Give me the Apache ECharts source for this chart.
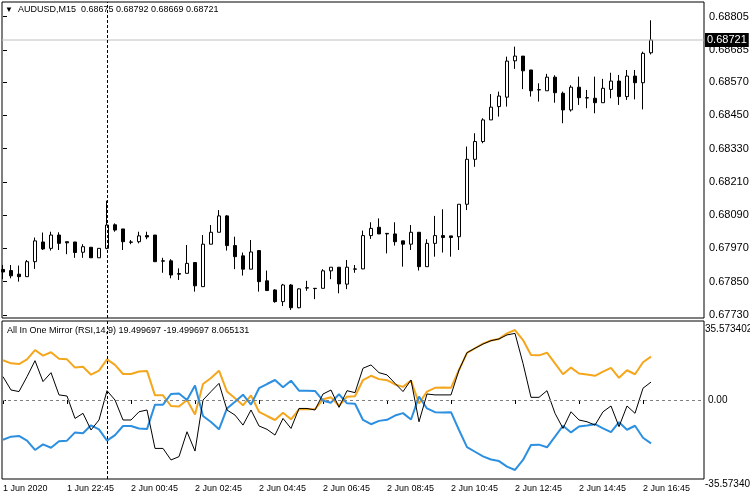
<!DOCTYPE html>
<html><head><meta charset="utf-8">
<script src="https://cdn.jsdelivr.net/npm/echarts@6/dist/echarts.min.js"></script>
<style>html,body{margin:0;padding:0;background:#fff}#c{width:750px;height:500px}</style>
</head><body><div id="c"></div>
<script>
const symbolName = 'AUDUSD,M15';
const indicatorName = 'All In One Mirror (RSI,14,9)';
const opens = [0.67894,0.67890,0.67877,0.67868,0.67922,0.67993,0.67970,0.68018,0.67994,0.67993,
0.67956,0.67974,0.67936,0.67970,0.68055,0.68040,0.67993,0.67994,0.68016,0.68018,
0.67925,0.67925,0.67879,0.67880,0.67919,0.67832,0.67985,0.68028,0.68087,0.67980,
0.67943,0.67895,0.67962,0.67853,0.67820,0.67778,0.67838,0.67756,0.67828,0.67826,
0.67826,0.67889,0.67902,0.67841,0.67896,0.67896,0.68016,0.68046,0.68024,0.68022,
0.67997,0.67985,0.68028,0.67904,0.67988,0.68016,0.68015,0.68012,0.68129,0.68291,
0.68355,0.68433,0.68481,0.68515,0.68646,0.68663,0.68613,0.68542,0.68538,0.68587,
0.68529,0.68469,0.68551,0.68513,0.68511,0.68495,0.68543,0.68573,0.68517,0.68591,
0.68567,0.68675];
const highs = [0.67910,0.67910,0.67908,0.67928,0.68009,0.68027,0.68030,0.68028,0.67994,0.67993,
0.67985,0.67974,0.67970,0.68142,0.68060,0.68040,0.68000,0.68030,0.68030,0.68018,
0.67936,0.67931,0.67898,0.67982,0.67919,0.68018,0.68054,0.68108,0.68090,0.68012,
0.67955,0.68000,0.67964,0.67890,0.67823,0.67842,0.67841,0.67826,0.67853,0.67826,
0.67895,0.67902,0.67902,0.67928,0.67910,0.68034,0.68064,0.68078,0.68024,0.68064,
0.67997,0.68054,0.68028,0.68003,0.68087,0.68111,0.68015,0.68129,0.68337,0.68385,
0.68439,0.68526,0.68535,0.68661,0.68697,0.68663,0.68613,0.68565,0.68599,0.68594,
0.68535,0.68558,0.68589,0.68541,0.68589,0.68581,0.68603,0.68595,0.68613,0.68613,
0.68679,0.68792];
const lows = [0.67859,0.67862,0.67850,0.67868,0.67896,0.67964,0.67962,0.67964,0.67949,0.67936,
0.67936,0.67936,0.67936,0.67967,0.68030,0.67964,0.67985,0.67988,0.68003,0.67922,
0.67882,0.67862,0.67856,0.67880,0.67814,0.67832,0.67985,0.68028,0.67962,0.67895,
0.67872,0.67895,0.67814,0.67818,0.67774,0.67762,0.67748,0.67754,0.67817,0.67787,
0.67826,0.67859,0.67808,0.67823,0.67882,0.67895,0.68004,0.68022,0.67952,0.67980,
0.67904,0.67964,0.67890,0.67904,0.67940,0.67955,0.67940,0.67964,0.68108,0.68264,
0.68349,0.68433,0.68445,0.68481,0.68617,0.68544,0.68517,0.68499,0.68538,0.68495,
0.68421,0.68463,0.68487,0.68475,0.68457,0.68495,0.68511,0.68487,0.68505,0.68507,
0.68471,0.68669];
const closes = [0.67885,0.67871,0.67868,0.67922,0.67997,0.67968,0.68018,0.67988,0.67990,0.67955,
0.67976,0.67936,0.67970,0.68054,0.68036,0.67994,0.67992,0.68015,0.68011,0.67922,
0.67924,0.67874,0.67877,0.67916,0.67835,0.67985,0.68028,0.68087,0.67980,0.67940,
0.67895,0.67957,0.67850,0.67818,0.67778,0.67838,0.67756,0.67824,0.67827,0.67825,
0.67889,0.67902,0.67842,0.67902,0.67895,0.68016,0.68042,0.68022,0.68022,0.67994,
0.67985,0.68028,0.67904,0.67988,0.68016,0.68009,0.68009,0.68129,0.68291,0.68355,
0.68433,0.68479,0.68519,0.68645,0.68663,0.68610,0.68538,0.68541,0.68587,0.68531,
0.68469,0.68551,0.68513,0.68512,0.68495,0.68547,0.68573,0.68517,0.68591,0.68567,
0.68673,0.68721];
const rsiUp = [17.9,16.5,16.2,18.3,22.5,20.0,21.5,18.6,18.3,14.6,
15.0,11.4,13.2,18.3,15.8,11.7,11.7,12.8,13.1,2.1,
2.1,-2.7,-2.9,0.0,-6.5,7.2,9.9,13.2,3.8,0.8,
-2.4,2.1,-5.3,-7.2,-9.0,-5.7,-8.7,-4.2,-4.2,-4.1,
0.3,1.2,-2.6,1.5,1.7,9.0,10.9,9.4,8.9,7.0,
5.9,8.8,-1.5,3.8,5.5,5.6,5.5,13.5,21.2,23.3,
25.4,26.8,27.5,30.0,31.5,27.0,20.3,20.1,21.3,16.5,
11.6,14.6,11.9,11.5,10.9,12.8,14.5,10.0,13.4,11.6,
17.0,19.499697];
const rsiDown = [-17.9,-16.5,-16.2,-18.3,-22.5,-20.0,-21.5,-18.6,-18.3,-14.6,
-15.0,-11.4,-13.2,-18.3,-15.8,-11.7,-11.7,-12.8,-13.1,-2.1,
-2.1,2.7,2.9,0.0,6.5,-7.2,-9.9,-13.2,-3.8,-0.8,
2.4,-2.1,5.3,7.2,9.0,5.7,8.7,4.2,4.2,4.1,
-0.3,-1.2,2.6,-1.5,-1.7,-9.0,-10.9,-9.4,-8.9,-7.0,
-5.9,-8.8,1.5,-3.8,-5.5,-5.6,-5.5,-13.5,-21.2,-23.3,
-25.4,-26.8,-27.5,-30.0,-31.5,-27.0,-20.3,-20.1,-21.3,-16.5,
-11.6,-14.6,-11.9,-11.5,-10.9,-12.8,-14.5,-10.0,-13.4,-11.6,
-17.0,-19.499697];
const signal = [10.5,4.5,3.8,10.5,17.7,8.3,12.3,2.3,1.8,-8.3,
-6.0,-13.5,-9.0,4.2,0.0,-9.0,-9.0,-5.3,-4.5,-21.8,
-21.8,-27.0,-25.5,-14.3,-23.0,0.0,3.8,7.5,-4.5,-6.8,
-11.3,-4.5,-11.7,-13.2,-15.8,-8.3,-12.8,-3.8,-3.8,-4.5,
2.7,4.5,-3.3,4.2,3.3,14.3,15.8,12.3,11.3,7.5,
3.8,9.0,-9.8,2.7,2.3,2.3,2.3,13.5,21.3,23.3,
25.2,26.7,27.5,29.3,30.0,16.5,1.2,1.2,4.2,-6.0,
-12.8,-5.3,-9.0,-9.8,-11.3,-5.3,-2.7,-12.0,-2.7,-6.0,
5.3,8.065131];
const priceTicks = [0.67730,0.67850,0.67970,0.68090,0.68210,0.68330,0.68450,0.68570,0.68685,0.68805];
const indZeroTick = [0];
const indMaxTick = [35.573402];
const indMinTick = [-35.573402];
const timeTickIndex = [0,8,16,24,32,40,48,56,64,72,80];
const timeTickLabels = ['1 Jun 2020','1 Jun 22:45','2 Jun 00:45','2 Jun 02:45','2 Jun 04:45','2 Jun 06:45','2 Jun 08:45','2 Jun 10:45','2 Jun 12:45','2 Jun 14:45','2 Jun 16:45'];
const separatorIndex = 13;

const FF = 'Liberation Sans';
const last = closes.length - 1;
const xMin = -0.125, xMax = 87.625;
const orange = '#F4A61C', blue = '#2C8FE0';

const candleData = opens.map((o, i) => [i, o, closes[i], lows[i], highs[i]]);
const toXY = arr => arr.map((v, i) => [i, v]);
const lastPrice = closes[last];

const edgeAxis = (vals, pad) => ({type: 'value', gridIndex: 1, position: 'right', min: -35.573402, max: 35.573402,
  axisLine: {show: false}, splitLine: {show: false}, axisTick: {show: false},
  axisLabel: {customValues: vals, formatter: v => String(v), margin: 1, verticalAlign: 'top', padding: pad, fontSize: 10, fontFamily: FF, color: '#000'}});

const chart = echarts.init(document.getElementById('c'), null, {renderer: 'canvas'});
chart.setOption({
  animation: false,
  backgroundColor: '#fff',
  title: [
    {text: '{t|▼}  ' + symbolName + '  ' + [opens[last], highs[last], lows[last], closes[last]].map(v => v.toFixed(5)).join(' '),
     left: 5, top: 5, padding: 0,
     textStyle: {fontSize: 9, fontFamily: FF, color: '#000', fontWeight: 'normal', rich: {t: {fontSize: 8, color: '#000'}}}},
    {text: indicatorName + ' ' + rsiUp[last] + ' ' + rsiDown[last] + ' ' + signal[last],
     left: 7, top: 326, padding: 0,
     textStyle: {fontSize: 9, fontFamily: FF, color: '#000', fontWeight: 'normal'}}
  ],
  grid: [
    {left: 2, top: 2, width: 702, height: 316, show: true, borderColor: '#000', borderWidth: 1, backgroundColor: 'transparent', containLabel: false, outerBoundsMode: 'none'},
    {left: 2, top: 321, width: 702, height: 158, show: true, borderColor: '#000', borderWidth: 1, backgroundColor: 'transparent', containLabel: false, outerBoundsMode: 'none'}
  ],
  xAxis: [
    {type: 'value', gridIndex: 0, min: xMin, max: xMax, axisLine: {show: false}, axisTick: {show: false}, axisLabel: {show: false}, splitLine: {show: false}},
    {type: 'value', gridIndex: 1, min: xMin, max: xMax, position: 'bottom',
     axisLine: {show: false}, splitLine: {show: false},
     axisTick: {show: true, customValues: timeTickIndex, length: 4, lineStyle: {color: '#000'}},
     axisLabel: {customValues: timeTickIndex, formatter: v => timeTickLabels[timeTickIndex.indexOf(v)] || '', align: 'left', margin: 5, fontSize: 9, fontFamily: FF, color: '#000'}}
  ],
  yAxis: [
    {type: 'value', gridIndex: 0, position: 'right', min: 0.67719, max: 0.68858,
     axisLine: {show: false}, splitLine: {show: false},
     axisTick: {show: true, customValues: priceTicks, length: 4, lineStyle: {color: '#000'}},
     axisLabel: {customValues: priceTicks, formatter: v => v.toFixed(5), margin: 5, fontSize: 11, fontFamily: FF, color: '#000'}},
    {type: 'value', gridIndex: 1, position: 'right', min: -35.573402, max: 35.573402,
     axisLine: {show: false}, splitLine: {show: false},
     axisTick: {show: true, customValues: indZeroTick, length: 3, lineStyle: {color: '#000'}},
     axisLabel: {customValues: indZeroTick, formatter: v => v.toFixed(2), margin: 4, fontSize: 10, fontFamily: FF, color: '#000'}},
    edgeAxis(indMaxTick, [3, 0, 0, 0]),
    edgeAxis(indMinTick, [0, 0, 0, 0])
  ],
  series: [
    {type: 'line', xAxisIndex: 0, yAxisIndex: 0, data: [[xMin, lastPrice], [xMax, lastPrice]], symbol: 'none', silent: true,
     lineStyle: {color: '#c0c0c0', width: 1}, itemStyle: {color: '#c0c0c0'},
     endLabel: {show: true, formatter: lastPrice.toFixed(5), backgroundColor: '#000', color: '#fff', padding: [2, 2, 1, 2], distance: 1, fontSize: 11, fontFamily: FF}},
    {type: 'candlestick', xAxisIndex: 0, yAxisIndex: 0, data: candleData, encode: {x: 0, y: [1, 2, 3, 4]},
     barWidth: 4,
     itemStyle: {color: '#fff', color0: '#000', borderColor: '#000', borderColor0: '#000', borderWidth: 1},
     markLine: {silent: true, symbol: ['none', 'none'], animation: false,
       data: [
         {xAxis: separatorIndex, lineStyle: {color: '#000', type: [3, 2], width: 1}, label: {show: false}}
       ]}},
    {type: 'line', xAxisIndex: 1, yAxisIndex: 1, data: toXY(rsiUp), symbol: 'none', lineStyle: {color: orange, width: 2}, itemStyle: {color: orange}},
    {type: 'line', xAxisIndex: 1, yAxisIndex: 1, data: toXY(rsiDown), symbol: 'none', lineStyle: {color: blue, width: 2}, itemStyle: {color: blue}},
    {type: 'line', xAxisIndex: 1, yAxisIndex: 1, data: toXY(signal), symbol: 'none', lineStyle: {color: '#000', width: 1}, itemStyle: {color: '#000'},
     markLine: {silent: true, symbol: ['none', 'none'], animation: false,
       data: [
         {yAxis: 0, lineStyle: {color: '#808080', type: [3, 3], width: 1}, label: {show: false}},
         {xAxis: separatorIndex, lineStyle: {color: '#000', type: [3, 2], width: 1}, label: {show: false}}
       ]}}
  ]
});
</script></body></html>
